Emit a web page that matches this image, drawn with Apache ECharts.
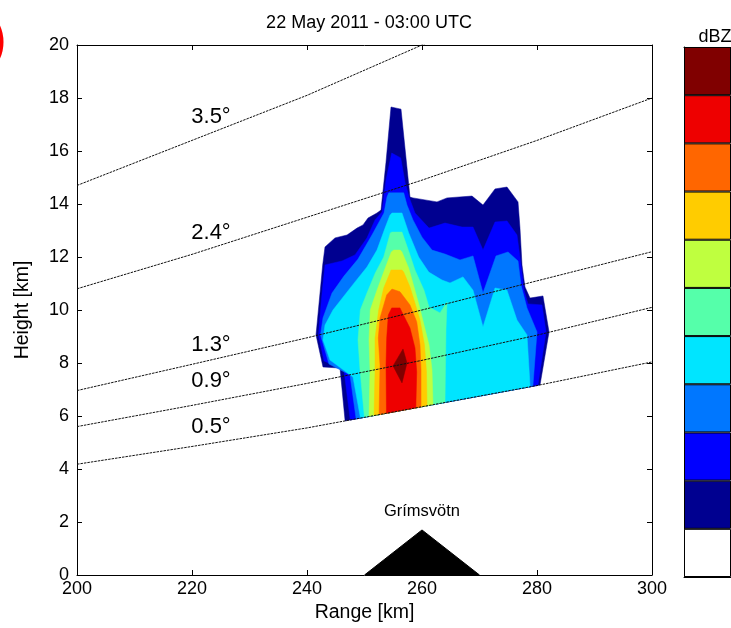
<!DOCTYPE html>
<html><head><meta charset="utf-8">
<script src="https://cdn.jsdelivr.net/npm/echarts/dist/echarts.min.js"></script>
<style>html,body{margin:0;padding:0;background:#fff}#c{width:731px;height:628px}</style>
</head><body><div id="c"></div>
<script>
// ---------- data (range km, height km) ----------
const ranges = [200, 220, 240, 260, 280, 300];
const beam05 = [4.18, 4.85, 5.55, 6.35, 7.15, 8.04];
const beam09 = [5.60, 6.40, 7.23, 8.10, 9.05, 10.1];
const beam13 = [6.96, 7.95, 8.95, 10.0, 11.1, 12.2];
const beam24 = [10.8, 12.1, 13.5, 14.9, 16.4, 18.0];
const beam35 = [14.7, 16.4, 18.1, 20.0, 21.9, 23.9];
const beamNames = ['0.5°', '0.9°', '1.3°', '2.4°', '3.5°'];
const beamLabelAt = [[223.3, 5.58], [223.3, 7.32], [223.3, 8.68], [223.3, 12.9], [223.3, 17.28]];

const volcano = [[250, 0], [260, 1.7], [270, 0]];
const volcanoName = 'Grímsvötn';
const volcanoLabelAt = [260, 2.4];

// reflectivity regions (area where dBZ >= band threshold), outlines
const navyArea = [[254.61,17.66],[256.35,17.58],[257.91,14.26],[258.43,14.23],[262.61,14.08],[264.35,14.23],[268.70,14.30],[270.61,13.96],[272.70,14.57],[274.78,14.64],[276.70,14.08],[277.04,13.09],[277.39,11.70],[277.91,10.87],[278.78,10.45],[281.04,10.53],[282.09,9.17],[280.52,7.17],[280.0,6.5],[246.9,5.2],[245.74,7.81],[242.78,7.85],[241.57,9.06],[242.73,11.70],[243.13,12.38],[244.87,12.72],[246.96,12.83],[248.70,13.09],[249.74,13.21],[250.61,13.47],[252.17,13.66],[252.87,13.77],[253.74,15.58]];
const blueArea = [[254.73,15.92],[256.30,15.74],[257.04,14.83],[257.74,14.26],[258.78,13.66],[261.22,13.09],[264.0,13.28],[266.96,13.13],[268.87,13.13],[270.61,12.26],[272.70,13.32],[274.78,13.36],[276.52,12.83],[277.22,11.70],[277.74,10.75],[278.43,10.23],[280.87,10.19],[281.57,9.17],[280.17,7.17],[279.8,6.5],[247.9,5.2],[247.48,5.92],[246.43,7.74],[242.96,8.08],[242.0,9.06],[242.35,10.0],[242.70,10.83],[243.13,11.70],[246.09,11.85],[248.35,12.08],[250.43,12.72],[251.83,13.40],[253.04,13.70],[253.74,14.91]];
const azureArea = [[254.21,14.42],[256.82,14.42],[257.39,13.96],[258.43,13.40],[260.0,12.75],[261.74,12.26],[264.0,12.11],[266.61,11.89],[268.87,12.04],[270.61,10.64],[272.87,12.04],[274.96,12.19],[276.70,11.85],[277.22,10.94],[278.26,10.08],[280.0,9.17],[279.30,7.17],[279.1,6.5],[249.0,5.2],[248.52,5.92],[247.48,7.55],[243.83,7.96],[242.35,9.06],[242.78,9.70],[244.35,10.64],[246.43,11.28],[248.87,11.92],[251.30,12.83],[253.39,13.66],[253.91,14.26]];
const cyanArea = [[254.78,13.66],[256.52,13.66],[257.69,12.91],[259.42,12.0],[261.17,11.43],[263.48,11.13],[264.87,11.02],[267.13,11.25],[268.87,10.75],[270.61,9.36],[272.70,10.83],[274.78,10.75],[276.52,9.62],[278.26,9.06],[278.78,7.17],[278.7,6.5],[249.9,5.2],[249.30,5.92],[248.0,7.47],[244.0,8.11],[242.78,8.87],[243.13,9.43],[244.52,10.0],[246.43,10.53],[248.35,11.06],[250.43,11.62],[252.17,12.26],[253.57,13.09],[254.43,13.58]];
const aquaArea = [[254.78,12.94],[256.52,12.94],[257.74,12.19],[258.78,11.51],[260.35,10.75],[261.22,10.11],[263.13,9.89],[264.35,10.30],[264.17,9.25],[264.0,6.53],[264.0,6.0],[250.6,5.2],[250.0,5.92],[249.22,7.74],[248.87,8.87],[249.27,10.0],[250.43,10.64],[251.88,11.40],[253.34,12.0],[254.49,12.91]];
const ygArea = [[255.08,12.26],[256.23,12.26],[256.52,12.19],[257.69,11.58],[258.61,10.87],[259.48,10.19],[260.35,9.43],[261.22,8.68],[261.74,7.74],[261.91,6.45],[261.9,5.9],[251.1,5.2],[250.78,5.92],[250.96,7.74],[250.78,8.87],[251.0,10.0],[252.17,10.75],[253.34,11.43],[254.66,12.19]];
const yellowArea = [[254.61,11.51],[256.52,11.51],[256.82,11.43],[257.91,10.87],[258.61,10.38],[259.65,9.62],[260.43,8.68],[260.78,7.66],[260.87,6.42],[260.9,5.9],[251.9,5.2],[251.65,5.92],[251.83,7.66],[251.83,8.94],[252.47,10.0],[253.34,10.83],[254.49,11.43]];
const orangeArea = [[254.78,10.79],[256.17,10.69],[257.91,10.19],[259.08,9.56],[259.65,8.68],[259.83,7.74],[259.83,6.42],[259.8,5.9],[252.6,5.2],[252.52,5.92],[252.70,7.92],[252.40,8.94],[252.70,9.70],[253.86,10.57]];
const redArea = [[254.73,10.08],[256.17,10.08],[256.47,9.94],[257.91,9.32],[258.78,8.57],[259.08,7.66],[258.96,6.60],[258.9,6.0],[253.9,5.3],[253.83,5.92],[253.74,7.92],[253.86,8.94],[254.14,9.81]];
const darkRedArea = [[256.70,8.53],[257.39,8.0],[256.52,7.25],[254.96,7.89]];

const bandAreas = [navyArea, blueArea, azureArea, cyanArea, aquaArea, ygArea, yellowArea, orangeArea, redArea, darkRedArea];
const bandColors = ['#000090', '#0000ff', '#0077ff', '#00e5ff', '#55ffaa', '#bfff3f', '#ffcc00', '#ff6600', '#ee0000', '#800000'];
const colorbarColors = ['#ffffff'].concat(bandColors);

// ---------- helpers ----------
const FONT = 'Liberation Sans, Arial, sans-serif';
function clipHalf(poly, a, b) {
  const side = p => (b[0] - a[0]) * (p[1] - a[1]) - (b[1] - a[1]) * (p[0] - a[0]);
  const out = [];
  for (let i = 0; i < poly.length; i++) {
    const cur = poly[i], prev = poly[(i - 1 + poly.length) % poly.length];
    const sc = side(cur), sp = side(prev);
    const cross = () => { const t = sp / (sp - sc); return [prev[0] + t * (cur[0] - prev[0]), prev[1] + t * (cur[1] - prev[1])]; };
    if (sc >= 0) { if (sp < 0) out.push(cross()); out.push(cur); }
    else if (sp >= 0) out.push(cross());
  }
  return out;
}
// no radar data below the lowest (0.5°) beam
const lowBeam = ranges.map((r, i) => [r, beam05[i]]);
const clippedAreas = bandAreas.map(poly => {
  let p = poly;
  for (let i = 0; i < lowBeam.length - 1; i++) p = clipHalf(p, lowBeam[i], lowBeam[i + 1]);
  return p;
});

const beams = [beam05, beam09, beam13, beam24, beam35];
const beamSeries = beams.map((b, k) => ({
  type: 'line', name: beamNames[k], xAxisIndex: 0, yAxisIndex: 0, z: 4,
  data: ranges.map((r, i) => [r, b[i]]), symbol: 'none', silent: true,
  lineStyle: { color: '#111', width: 1, type: [2.5, 1] }
}));

const chart = echarts.init(document.getElementById('c'), null, { renderer: 'canvas' });
const axisLine = { show: true, onZero: false, lineStyle: { color: '#000', width: 1 } };
chart.setOption({
  animation: false,
  backgroundColor: '#fff',
  title: [
    { text: '22 May 2011 - 03:00 UTC', left: 364, top: 9, textAlign: 'center',
      textStyle: { fontFamily: FONT, fontSize: 18, fontWeight: 'normal', color: '#000' } },
    { text: 'dBZ', left: 710, top: 23, textAlign: 'center',
      textStyle: { fontFamily: FONT, fontSize: 18, fontWeight: 'normal', color: '#000' } }
  ],
  graphic: [
    { type: 'circle', shape: { cx: -36, cy: 42, r: 37 }, style: { fill: 'none', stroke: '#ff0000', lineWidth: 5 } }
  ],
  grid: [
    { left: 77, right: 79, top: 45, bottom: 53 },
    { left: 684, top: 47, width: 80, height: 530 }
  ],
  xAxis: [
    { gridIndex: 0, type: 'value', min: 200, max: 300, interval: 20, position: 'bottom',
      axisLine: axisLine, axisTick: { inside: true, length: 5, lineStyle: { color: '#000' } },
      axisLabel: { color: '#000', fontSize: 18, fontFamily: FONT, margin: 5 },
      splitLine: { show: false },
      name: 'Range [km]', nameLocation: 'middle', nameGap: 22,
      nameTextStyle: { color: '#000', fontSize: 19.5, fontFamily: FONT } },
    { gridIndex: 0, type: 'value', min: 200, max: 300, interval: 20, position: 'top',
      axisLine: axisLine, axisTick: { inside: true, length: 5, lineStyle: { color: '#000' } },
      axisLabel: { show: false }, splitLine: { show: false } },
    { gridIndex: 1, type: 'category', data: [''], position: 'bottom',
      axisLine: axisLine, axisTick: { show: false }, axisLabel: { show: false } },
    { gridIndex: 1, type: 'category', data: [''], position: 'top',
      axisLine: axisLine, axisTick: { show: false }, axisLabel: { show: false } }
  ],
  yAxis: [
    { gridIndex: 0, type: 'value', min: 0, max: 20, interval: 2, position: 'left',
      axisLine: axisLine, axisTick: { inside: true, length: 5, lineStyle: { color: '#000' } },
      axisLabel: { color: '#000', fontSize: 18, fontFamily: FONT, margin: 8 },
      splitLine: { show: false },
      name: 'Height [km]', nameLocation: 'middle', nameGap: 44, nameRotate: 90,
      nameTextStyle: { color: '#000', fontSize: 19.5, fontFamily: FONT } },
    { gridIndex: 0, type: 'value', min: 0, max: 20, interval: 2, position: 'right',
      axisLine: axisLine, axisTick: { inside: true, length: 5, lineStyle: { color: '#000' } },
      axisLabel: { show: false }, splitLine: { show: false } },
    { gridIndex: 1, type: 'value', min: 0, max: colorbarColors.length, position: 'left',
      axisLine: axisLine, axisTick: { show: false }, axisLabel: { show: false }, splitLine: { show: false } }
  ],
  series: [
    {
      type: 'custom', xAxisIndex: 0, yAxisIndex: 0, z: 2, clip: true, silent: true,
      data: clippedAreas.map((p, i) => [p[0][0], p[0][1], i]),
      encode: { x: 0, y: 1 },
      renderItem: function (params, api) {
        const idx = api.value(2);
        const pts = clippedAreas[idx].map(p => api.coord(p));
        return { type: 'polygon', shape: { points: pts }, style: { fill: bandColors[idx], stroke: bandColors[idx], lineWidth: 0.5 } };
      }
    },
    {
      type: 'line', xAxisIndex: 0, yAxisIndex: 0, z: 3, silent: true, symbol: 'none',
      data: volcano, lineStyle: { color: '#000', width: 1 }, areaStyle: { color: '#000', opacity: 1 }
    },
    ...beamSeries,
    {
      type: 'scatter', xAxisIndex: 0, yAxisIndex: 0, z: 5, silent: true, symbolSize: 0,
      itemStyle: { opacity: 1 },
      data: beamNames.map((n, i) => ({ name: n, value: beamLabelAt[i] })).concat([{ name: volcanoName, value: volcanoLabelAt, label: { fontSize: 16.5 } }]),
      label: { show: true, position: 'inside', formatter: '{b}', color: '#000', opacity: 1, fontSize: 22, fontFamily: FONT }
    },
    ...colorbarColors.map(c => ({
      type: 'bar', xAxisIndex: 2, yAxisIndex: 2, stack: 'cb', data: [1], barWidth: '100%', silent: true,
      itemStyle: { color: c, borderColor: '#000', borderWidth: 1 }
    }))
  ]
});
</script></body></html>
